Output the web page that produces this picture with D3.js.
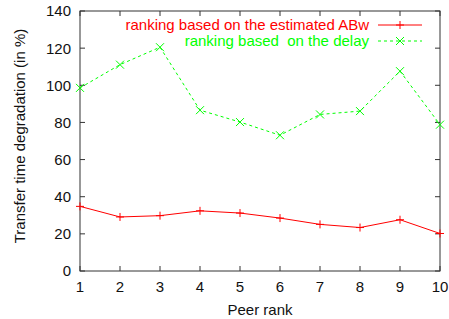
<!DOCTYPE html>
<html>
<head>
<meta charset="utf-8">
<script src="https://cdn.jsdelivr.net/npm/d3@7"></script>
<style>
  body { margin: 0; background: #fff; }
  svg { font-family: "Liberation Sans", Arial, sans-serif; }
  text { white-space: pre; }
</style>
</head>
<body>
<svg width="449" height="319"></svg>
<script>
var ranks = [1, 2, 3, 4, 5, 6, 7, 8, 9, 10];
var abwValues = [34.8, 29.1, 29.8, 32.4, 31.2, 28.5, 25.1, 23.4, 27.6, 20.2];
var delayValues = [98.6, 111.1, 120.5, 86.6, 80.2, 73.1, 84.3, 86.1, 107.6, 78.8];
var yTicks = [0, 20, 40, 60, 80, 100, 120, 140];
var seriesNames = ["ranking based on the estimated ABw", "ranking based  on the delay"];

var svg = d3.select("svg"),
  margin = { top: 11, right: 9, bottom: 48, left: 80 },
  width = +svg.attr("width") - margin.left - margin.right,
  height = +svg.attr("height") - margin.top - margin.bottom;

var x = d3.scaleLinear().domain([1, 10]).range([0, width]),
  y = d3.scaleLinear().domain([0, 140]).range([height, 0]);

var g = svg.append("g")
  .attr("transform", "translate(" + margin.left + "," + margin.top + ")");

var tickLen = 5;
var fs = 15;

// frame
g.append("rect")
  .attr("x", 0).attr("y", 0)
  .attr("width", width).attr("height", height)
  .attr("fill", "none")
  .attr("stroke", "#333")
  .attr("stroke-width", 1);

// inward ticks on all four sides, gnuplot style
var ax = g.append("g").attr("stroke", "#333").attr("stroke-width", 1);
ranks.forEach(function(r) {
  ax.append("line").attr("x1", x(r)).attr("x2", x(r)).attr("y1", height).attr("y2", height - tickLen);
  ax.append("line").attr("x1", x(r)).attr("x2", x(r)).attr("y1", 0).attr("y2", tickLen);
});
yTicks.forEach(function(t) {
  ax.append("line").attr("x1", 0).attr("x2", tickLen).attr("y1", y(t)).attr("y2", y(t));
  ax.append("line").attr("x1", width).attr("x2", width - tickLen).attr("y1", y(t)).attr("y2", y(t));
});

// tick labels
g.selectAll(".ylab").data(yTicks).enter().append("text")
  .attr("x", -9)
  .attr("y", function(d) { return y(d); })
  .attr("dy", "0.36em")
  .attr("text-anchor", "end")
  .attr("font-size", fs)
  .attr("fill", "#111")
  .text(function(d) { return d; });

g.selectAll(".xlab").data(ranks).enter().append("text")
  .attr("x", function(d) { return x(d); })
  .attr("y", height + 21)
  .attr("text-anchor", "middle")
  .attr("font-size", fs)
  .attr("fill", "#111")
  .text(function(d) { return d; });

// axis titles
g.append("text")
  .attr("x", width / 2)
  .attr("y", height + 44)
  .attr("text-anchor", "middle")
  .attr("font-size", fs)
  .attr("fill", "#111")
  .text("Peer rank");

svg.append("text")
  .attr("transform", "translate(25," + 136 + ") rotate(-90)")
  .attr("text-anchor", "middle")
  .attr("font-size", fs)
  .attr("fill", "#111")
  .text("Transfer time degradation (in %)");

var line = d3.line()
  .x(function(d, i) { return x(ranks[i]); })
  .y(function(d) { return y(d); });

// ABw series
g.append("path")
  .datum(abwValues)
  .attr("d", line)
  .attr("fill", "none")
  .attr("stroke", "#ff0000")
  .attr("stroke-width", 1);

var m = 4;
g.selectAll(".plus").data(abwValues).enter().append("path")
  .attr("d", function(d, i) {
    var cx = x(ranks[i]), cy = y(d);
    return "M" + (cx - m) + "," + cy + "H" + (cx + m) + "M" + cx + "," + (cy - m) + "V" + (cy + m);
  })
  .attr("stroke", "#ff0000")
  .attr("stroke-width", 1)
  .attr("fill", "none");

// delay series
g.append("path")
  .datum(delayValues)
  .attr("d", line)
  .attr("fill", "none")
  .attr("stroke", "#00ff00")
  .attr("stroke-width", 1)
  .attr("stroke-dasharray", "3,3");

g.selectAll(".cross").data(delayValues).enter().append("path")
  .attr("d", function(d, i) {
    var cx = x(ranks[i]), cy = y(d);
    return "M" + (cx - m) + "," + (cy - m) + "L" + (cx + m) + "," + (cy + m) +
      "M" + (cx - m) + "," + (cy + m) + "L" + (cx + m) + "," + (cy - m);
  })
  .attr("stroke", "#00ff00")
  .attr("stroke-width", 1)
  .attr("fill", "none");

// legend
var legend = g.append("g").attr("font-size", fs);
var colors = ["#ff0000", "#00ff00"];
seriesNames.forEach(function(name, i) {
  var ly = 14 + i * 16;
  legend.append("text")
    .attr("x", 289)
    .attr("y", ly)
    .attr("dy", "0.35em")
    .attr("text-anchor", "end")
    .attr("fill", colors[i])
    .text(name);
  legend.append("line")
    .attr("x1", 298).attr("x2", 342)
    .attr("y1", ly).attr("y2", ly)
    .attr("stroke", colors[i])
    .attr("stroke-dasharray", i === 1 ? "3,3" : null);
  var cx = 320;
  legend.append("path")
    .attr("d", i === 0
      ? "M" + (cx - m) + "," + ly + "H" + (cx + m) + "M" + cx + "," + (ly - m) + "V" + (ly + m)
      : "M" + (cx - m) + "," + (ly - m) + "L" + (cx + m) + "," + (ly + m) + "M" + (cx - m) + "," + (ly + m) + "L" + (cx + m) + "," + (ly - m))
    .attr("stroke", colors[i])
    .attr("fill", "none");
});
</script>
</body>
</html>
